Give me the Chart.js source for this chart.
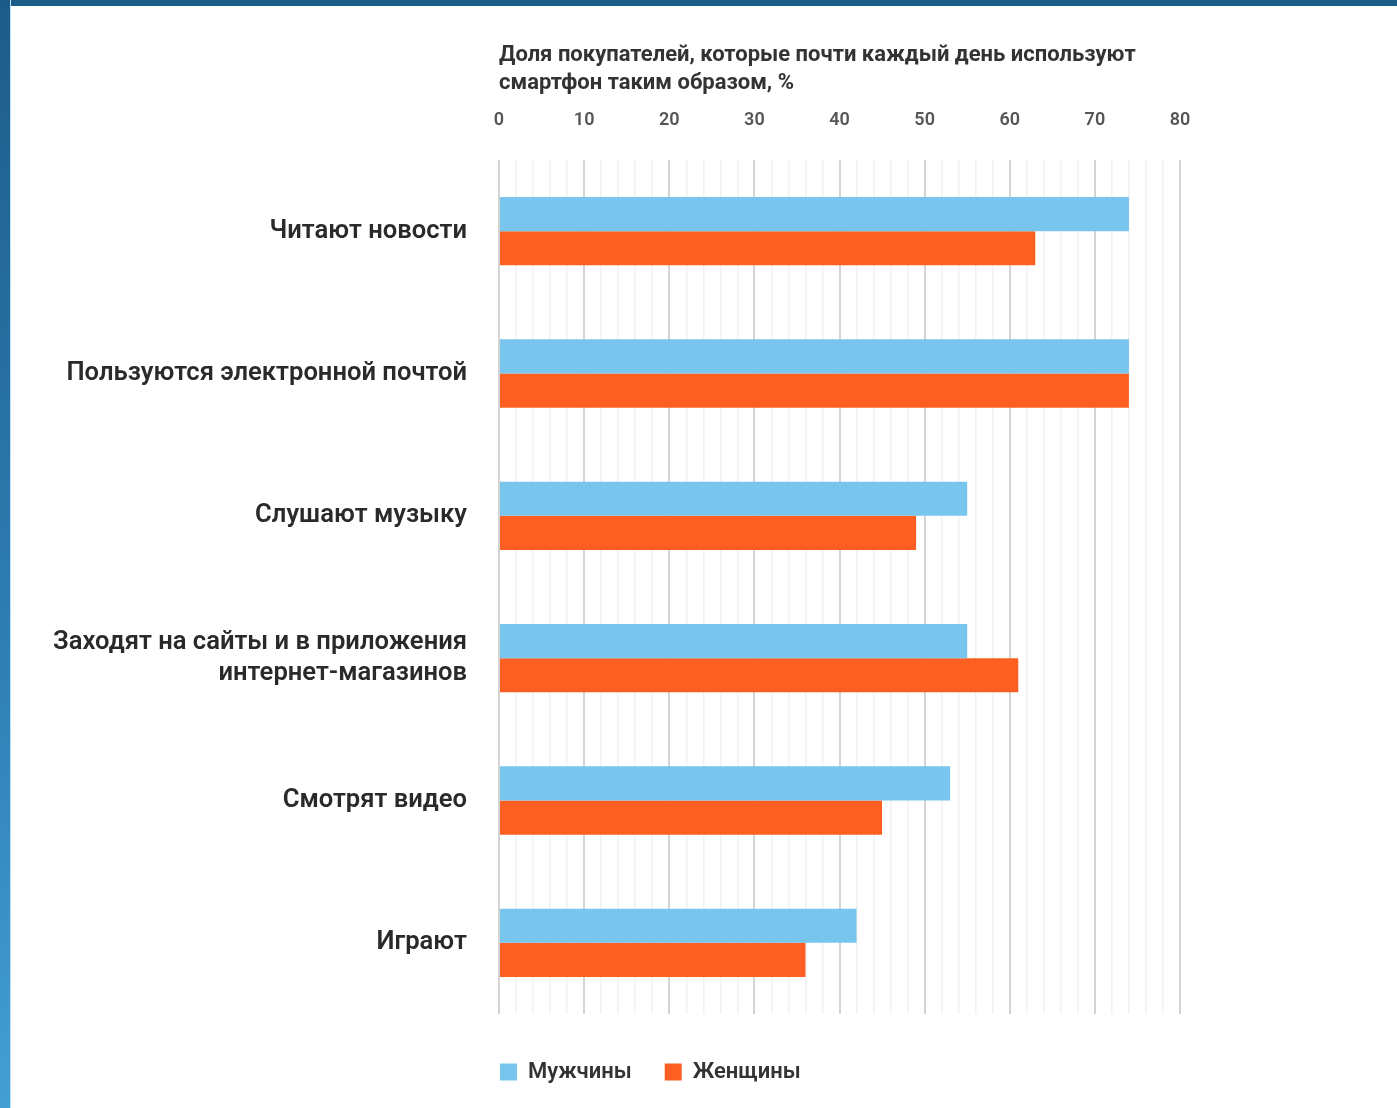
<!DOCTYPE html>
<html lang="ru">
<head>
<meta charset="utf-8">
<title>Использование смартфона</title>
<script src="https://cdn.jsdelivr.net/npm/chart.js@4.4.1/dist/chart.umd.min.js"></script>
<style>
  html, body { margin: 0; padding: 0; background: #fff; }
  body { width: 1397px; height: 1108px; position: relative; overflow: hidden; }
  #frameTop { position: absolute; left: 0; top: 0; width: 1397px; height: 6px; background: #1b5b87; }
  #frameLeft { position: absolute; left: 0; top: 0; width: 10px; height: 1108px;
    background: linear-gradient(#1d5c89, #2f7fb5 60%, #429fd4); border-right: 1px solid #bfe3f5; }
  #chartBox { position: absolute; left: 0; top: 0; width: 1397px; height: 1108px; }
</style>
</head>
<body>
<div id="chartBox"><canvas id="usageChart" width="1397" height="1108"></canvas></div>
<div id="frameTop"></div>
<div id="frameLeft"></div>
<script>
// Categories and values (%)
const activities = [
    'Читают новости',
    'Пользуются электронной почтой',
    'Слушают музыку',
    ['Заходят на сайты и в приложения', 'интернет-магазинов'],
    'Смотрят видео',
    'Играют'
];
const menValues = [74, 74, 55, 55, 53, 42];
const womenValues = [63, 74, 49, 61, 45, 36];
const seriesNames = ['Мужчины', 'Женщины'];
const axisTitle = ['Доля покупателей, которые почти каждый день используют', 'смартфон таким образом, %'];
const axisMax = 80;

// Legend sits flush with the plot's left edge and a bit lower than Chart.js puts it
const legendNudge = {
    id: 'legendNudge',
    afterLayout(chart) {
        const lg = chart.legend;
        if (!lg) return;
        lg.left -= 32;
        lg.right -= 32;
        lg.top += 14;
        lg.bottom += 14;
    }
};

const ctx = document.getElementById('usageChart').getContext('2d');

new Chart(ctx, {
    type: 'bar',
    data: {
        labels: activities,
        datasets: [
            { label: seriesNames[0], data: menValues, backgroundColor: '#78c5ee' },
            { label: seriesNames[1], data: womenValues, backgroundColor: '#fd5e22' }
        ]
    },
    options: {
        responsive: false,
        animation: false,
        indexAxis: 'y',
        layout: { padding: { top: 0, right: 217, bottom: 29, left: 0 } },
        datasets: { bar: { barPercentage: 1, categoryPercentage: 0.48 } },
        scales: {
            x: {
                position: 'top',
                min: 0,
                max: axisMax,
                afterFit: (scale) => { scale.height = 160; },
                border: { display: false },
                grid: {
                    drawTicks: false,
                    // major lines every 10, faint ones every 2
                    color: (c) => c.tick && c.tick.value % 10 === 0 ? '#d4d4d4' : '#f1f1f1',
                    lineWidth: (c) => c.tick && c.tick.value % 10 === 0 ? 2 : 1.5
                },
                ticks: {
                    stepSize: 2,
                    autoSkip: false,
                    maxRotation: 0,
                    padding: 29,
                    color: '#555',
                    font: { family: 'Roboto', size: 18, weight: '600' },
                    callback: (v) => v % 10 === 0 ? String(v) : ''
                },
                title: {
                    display: true,
                    text: axisTitle,
                    align: 'start',
                    color: '#333',
                    font: { family: 'Roboto', size: 22, weight: '700', lineHeight: 1.27 },
                    padding: { top: 42, bottom: 0 }
                }
            },
            y: {
                afterFit: (scale) => { scale.width = 499; },
                border: { display: false },
                grid: { display: false },
                ticks: {
                    padding: 24,
                    color: '#2a2a2a',
                    font: { family: 'Roboto', size: 25.6, weight: '600', lineHeight: 1.22 }
                }
            }
        },
        plugins: {
            legend: {
                position: 'bottom',
                align: 'start',
                fullSize: false,
                labels: {
                    boxWidth: 17,
                    boxHeight: 17,
                    padding: 33,
                    color: '#333',
                    font: { family: 'Roboto', size: 22, weight: '600' }
                }
            },
            tooltip: { enabled: false }
        }
    },
    plugins: [legendNudge]
});
</script>
</body>
</html>
